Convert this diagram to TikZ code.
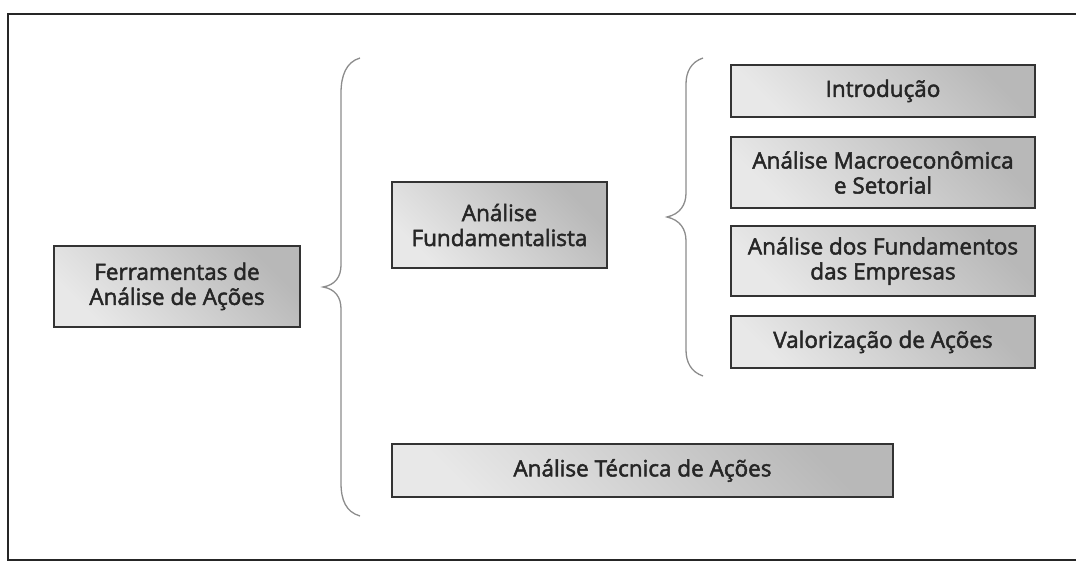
\documentclass[tikz,border=0pt]{standalone}
\usepackage{fontspec}
\setmainfont{Open Sans}
\newfontfamily\caixafont{Open Sans}[FakeBold=2.2]
\usepackage{tikz}
\usetikzlibrary{calc}

\tikzset{
    caixa/.style={draw=black!80, line width=1.1pt, shade,
        top color=black!28, bottom color=black!9, shading angle=-45,
        align=center, inner sep=0pt, font=\caixafont\fontsize{22.5}{25}\selectfont,
        text=black!85},
    chave/.style={draw=black!45, line width=1.3pt},
}

\begin{document}
\begin{tikzpicture}[x=1pt,y=-1pt]
\useasboundingbox (0,0) rectangle (1076,561);
\begin{scope}
    \clip (0,0) rectangle (1076,561);
    % moldura
    \draw[black!85, line width=2pt] (1080,14) -- (8,14) -- (8,560) -- (1080,560);
\end{scope}

    % caixas
    \node[caixa, minimum width=246, minimum height=81] (ferr) at (177,286.5)
        {Ferramentas de\\Análise de Ações};
    \node[caixa, minimum width=215, minimum height=86] (fund) at (499.5,225)
        {Análise\\Fundamentalista};
    \node[caixa, minimum width=501, minimum height=53] (tec) at (642.5,470.5)
        {Análise Técnica de Ações};

    \node[caixa, minimum width=304, minimum height=52] (intro) at (883,91)
        {Introdução};
    \node[caixa, minimum width=304, minimum height=71] (macro) at (883,172.5)
        {Análise Macroeconômica\\e Setorial};
    \node[caixa, minimum width=304, minimum height=70] (empr) at (883,261)
        {Análise dos Fundamentos\\das Empresas};
    \node[caixa, minimum width=304, minimum height=52] (valor) at (883,342)
        {Valorização de Ações};

    % chave grande
    \draw[chave] (360,58) .. controls (346,62) and (341,76) .. (341,93)
        -- (341,265) .. controls (341,277) and (335,285) .. (323,287)
        .. controls (335,289) and (341,297) .. (341,309)
        -- (341,483) .. controls (341,500) and (346,512) .. (360,516);
    % chave pequena
    \draw[chave] (703,58) .. controls (691,62) and (686,72) .. (686,84)
        -- (686,193) .. controls (686,205) and (680,214) .. (667,217)
        .. controls (680,220) and (686,229) .. (686,241)
        -- (686,350) .. controls (686,362) and (691,372) .. (703,376);
\end{tikzpicture}
\end{document}
